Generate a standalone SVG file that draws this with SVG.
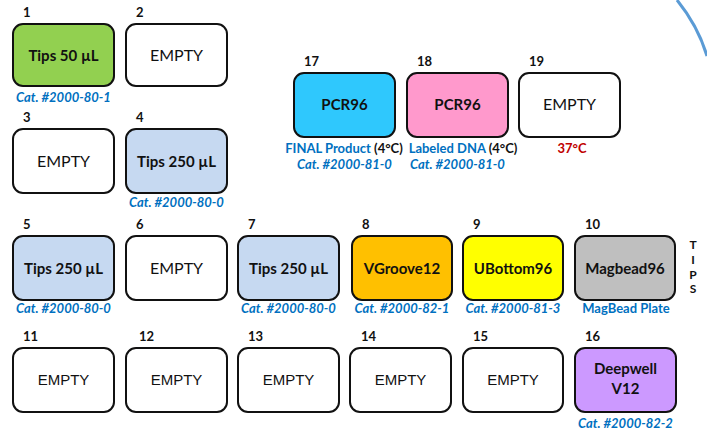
<svg xmlns="http://www.w3.org/2000/svg" width="707" height="432" viewBox="0 0 707 432">
<style>
.box{stroke:#111;stroke-width:2;}
.num{font-family:Lato,"Liberation Sans",sans-serif;font-weight:bold;font-size:13px;fill:#111;}
.lbl{font-family:Lato,"Liberation Sans",sans-serif;font-weight:bold;font-size:15px;fill:#111;text-anchor:middle;}
.emp{font-family:Lato,"Liberation Sans",sans-serif;font-size:16px;fill:#111;text-anchor:middle;}
.empA{font-family:"Liberation Sans",Arial,sans-serif;font-size:15px;fill:#111;text-anchor:middle;}
.cat{font-family:Lato,"Liberation Sans",sans-serif;font-weight:bold;font-style:italic;font-size:13px;fill:#0070c0;text-anchor:middle;}
.sub{font-family:Lato,"Liberation Sans",sans-serif;font-weight:bold;font-size:13px;text-anchor:middle;}
.tips{font-family:Lato,"Liberation Sans",sans-serif;font-weight:bold;font-size:12px;fill:#111;text-anchor:middle;}
</style>
<rect width="707" height="432" fill="#fff"/>
<path d="M677 0 Q698 26 707 56" fill="none" stroke="#5b9bd5" stroke-width="3"/>

<g id="node1"><text class="num" x="23" y="17">1</text><rect class="box" x="13" y="24" width="101" height="62" rx="10" fill="#92d050"/><text class="lbl" x="63.5" y="61">Tips 50 µL</text><text class="cat" x="63.5" y="102">Cat. #2000-80-1</text></g>
<g id="node2"><text class="num" x="136" y="17">2</text><rect class="box" x="126" y="24" width="101" height="62" rx="10" fill="#fff"/><text class="emp" x="176.5" y="61">EMPTY</text></g>
<g id="node3"><text class="num" x="23" y="122">3</text><rect class="box" x="13" y="129" width="101" height="64" rx="10" fill="#fff"/><text class="emp" x="63.5" y="167">EMPTY</text></g>
<g id="node4"><text class="num" x="136" y="122">4</text><rect class="box" x="126" y="129" width="101" height="64" rx="10" fill="#c6d9f1"/><text class="lbl" x="176.5" y="167">Tips 250 µL</text><text class="cat" x="176.5" y="207">Cat. #2000-80-0</text></g>

<g id="node17"><text class="num" x="304" y="66">17</text><rect class="box" x="294" y="73" width="101" height="64" rx="10" fill="#2fc8fd"/><text class="lbl" x="344.5" y="110">PCR96</text><text class="sub" x="344" y="153"><tspan fill="#0070c0">FINAL Product </tspan><tspan fill="#111">(4°C)</tspan></text><text class="cat" x="344.5" y="169">Cat. #2000-81-0</text></g>
<g id="node18"><text class="num" x="417" y="66">18</text><rect class="box" x="407" y="73" width="101" height="64" rx="10" fill="#ff99cc"/><text class="lbl" x="457.5" y="110">PCR96</text><text class="sub" x="463" y="153"><tspan fill="#0070c0">Labeled DNA </tspan><tspan fill="#111">(4°C)</tspan></text><text class="cat" x="457.5" y="169">Cat. #2000-81-0</text></g>
<g id="node19"><text class="num" x="529" y="66">19</text><rect class="box" x="519" y="73" width="101" height="64" rx="10" fill="#fff"/><text class="emp" x="569.5" y="110">EMPTY</text><text class="sub" x="572" y="153" fill="#c00000">37°C</text></g>

<g id="node5"><text class="num" x="23" y="229">5</text><rect class="box" x="13" y="236" width="101" height="64" rx="10" fill="#c6d9f1"/><text class="lbl" x="63.5" y="274">Tips 250 µL</text><text class="cat" x="63.5" y="313">Cat. #2000-80-0</text></g>
<g id="node6"><text class="num" x="136" y="229">6</text><rect class="box" x="126" y="236" width="101" height="64" rx="10" fill="#fff"/><text class="emp" x="176.5" y="274">EMPTY</text></g>
<g id="node7"><text class="num" x="248" y="229">7</text><rect class="box" x="238" y="236" width="101" height="64" rx="10" fill="#c6d9f1"/><text class="lbl" x="288.5" y="274">Tips 250 µL</text><text class="cat" x="288.5" y="313">Cat. #2000-80-0</text></g>
<g id="node8"><text class="num" x="362" y="229">8</text><rect class="box" x="352" y="236" width="100" height="64" rx="10" fill="#ffc000"/><text class="lbl" x="402" y="274">VGroove12</text><text class="cat" x="402" y="313">Cat. #2000-82-1</text></g>
<g id="node9"><text class="num" x="473" y="229">9</text><rect class="box" x="463" y="236" width="100" height="64" rx="10" fill="#ffff00"/><text class="lbl" x="513" y="274">UBottom96</text><text class="cat" x="513" y="313">Cat. #2000-81-3</text></g>
<g id="node10"><text class="num" x="585" y="229">10</text><rect class="box" x="575" y="236" width="100" height="64" rx="10" fill="#bfbfbf"/><text class="lbl" x="625" y="274">Magbead96</text><text class="sub" x="626" y="313" fill="#0070c0">MagBead Plate</text></g>
<g id="tips"><text class="tips" x="693" y="249">T</text><text class="tips" x="693" y="264">I</text><text class="tips" x="693" y="279">P</text><text class="tips" x="693" y="293">S</text></g>

<g id="node11"><text class="num" x="23" y="341">11</text><rect class="box" x="13" y="348" width="101" height="64" rx="10" fill="#fff"/><text class="empA" x="63.5" y="385">EMPTY</text></g>
<g id="node12"><text class="num" x="139" y="341">12</text><rect class="box" x="126" y="348" width="101" height="64" rx="10" fill="#fff"/><text class="empA" x="176.5" y="385">EMPTY</text></g>
<g id="node13"><text class="num" x="248" y="341">13</text><rect class="box" x="238" y="348" width="101" height="64" rx="10" fill="#fff"/><text class="empA" x="288.5" y="385">EMPTY</text></g>
<g id="node14"><text class="num" x="361" y="341">14</text><rect class="box" x="350" y="348" width="101" height="64" rx="10" fill="#fff"/><text class="empA" x="400.5" y="385">EMPTY</text></g>
<g id="node15"><text class="num" x="473" y="341">15</text><rect class="box" x="463" y="348" width="100" height="64" rx="10" fill="#fff"/><text class="empA" x="513" y="385">EMPTY</text></g>
<g id="node16"><text class="num" x="585" y="341">16</text><rect class="box" x="575" y="348" width="101" height="64" rx="10" fill="#cc99ff"/><text class="lbl" x="625.5" y="374">Deepwell</text><text class="lbl" x="625.5" y="394">V12</text><text class="cat" x="625.5" y="428">Cat. #2000-82-2</text></g>
</svg>
